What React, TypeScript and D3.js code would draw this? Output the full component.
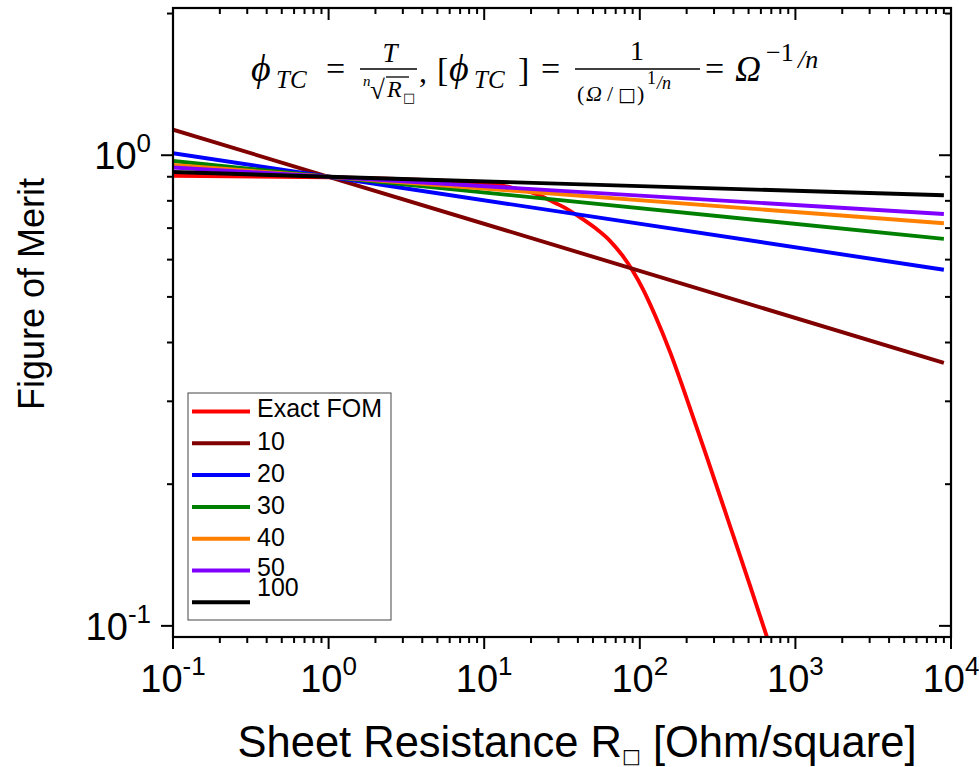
import React from "react";
import * as d3 from "d3";

const W = 979;
const H = 767;

// ---- data ----
const lineR = [0.1, 1, 9000];
const fomN10 = [1.133, 0.9, 0.362];
const fomN20 = [1.01, 0.9, 0.571];
const fomN30 = [0.972, 0.9, 0.664];
const fomN40 = [0.953, 0.9, 0.717];
const fomN50 = [0.942, 0.9, 0.75];
const fomN100 = [0.921, 0.9, 0.822];

const exactR = [0.1, 1, 3.1, 9.8, 14.7, 21.8, 26.5, 33.1, 41.3, 51.5, 64.3, 76.8, 90.4, 104.9, 125.3, 156.4, 201, 270, 380, 511, 656, 857];
const exactFom = [0.904, 0.898, 0.889, 0.872, 0.855, 0.826, 0.802, 0.773, 0.738, 0.701, 0.658, 0.614, 0.567, 0.519, 0.457, 0.382, 0.303, 0.228, 0.163, 0.1217, 0.0948, 0.0727];

const seriesLabels = ["Exact FOM", "10", "20", "30", "40", "50", "100"];
const seriesColors = ["#ff0000", "#800000", "#0000ff", "#008000", "#ff8000", "#8000ff", "#000000"];

const xTickExps = [-1, 0, 1, 2, 3, 4];
const yTickExps = [-1, 0];

const xDomain: [number, number] = [0.1, 10000];
const yDomain: [number, number] = [0.0947, 2.055];

export default function App() {
  const left = 173, right = 951, top = 8, bottom = 637;
  const x = d3.scaleLog().domain(xDomain).range([left, right]);
  const y = d3.scaleLog().domain(yDomain).range([bottom, top]);

  const series = [
    exactR.map((r, i) => [r, exactFom[i]] as [number, number]),
    ...[fomN10, fomN20, fomN30, fomN40, fomN50, fomN100].map((arr) =>
      lineR.map((r, i) => [r, arr[i]] as [number, number])
    ),
  ];

  const line = d3
    .line<[number, number]>()
    .x((d) => x(d[0]))
    .y((d) => y(d[1]));
  const curved = d3
    .line<[number, number]>()
    .x((d) => x(d[0]))
    .y((d) => y(d[1]))
    .curve(d3.curveMonotoneX);

  const xMinor: number[] = [];
  for (let e = -1; e < 4; e++) for (let k = 2; k <= 9; k++) xMinor.push(k * Math.pow(10, e));
  const yMinor: number[] = [];
  for (let e = -2; e <= 0; e++)
    for (let k = 2; k <= 9; k++) {
      const v = k * Math.pow(10, e);
      if (v >= yDomain[0] && v <= yDomain[1]) yMinor.push(v);
    }

  const sans = "'Liberation Sans', Arial, 'DejaVu Sans', sans-serif";
  const serif = "'Liberation Serif', 'DejaVu Serif', serif";
  const box = "'DejaVu Sans', sans-serif";
  const tickFont = 38;
  const supFont = 26;

  const legendX = 188, legendY = 393, legendW = 203, legendH = 227;
  const legendRowY = (i: number) => 411.5 + i * 31.8;
  const legendTextDy = [5, 7, 7, 7, 7, 5, -6];

  return (
    <svg width={W} height={H} style={{ display: "block", position: "absolute", left: 0, top: 0, background: "#fff" }}>
      <defs>
        <clipPath id="plotClip">
          <rect x={left} y={top} width={right - left} height={bottom - top} />
        </clipPath>
      </defs>
      <rect x={0} y={0} width={W} height={H} fill="#fff" />

      {/* data lines */}
      <g clipPath="url(#plotClip)" fill="none" strokeWidth={3.9}>
        {series.map((s, i) => (
          <path key={i} d={(i === 0 ? curved(s) : line(s)) || ""} stroke={seriesColors[i]} />
        ))}
      </g>

      {/* frame */}
      <rect x={left} y={top} width={right - left} height={bottom - top} fill="none" stroke="#000" strokeWidth={2.2} />

      {/* ticks */}
      <g stroke="#000" strokeWidth={2}>
        {xTickExps.map((e) => {
          const px = x(Math.pow(10, e));
          return (
            <g key={"xm" + e}>
              <line x1={px} x2={px} y1={bottom} y2={bottom + 12} />
              <line x1={px} x2={px} y1={top} y2={top + 12} />
            </g>
          );
        })}
        {xMinor.map((v, i) => {
          const px = x(v);
          return (
            <g key={"xn" + i}>
              <line x1={px} x2={px} y1={bottom} y2={bottom + 6} />
              <line x1={px} x2={px} y1={top} y2={top + 6} />
            </g>
          );
        })}
        {yTickExps.map((e) => {
          const py = y(Math.pow(10, e));
          return (
            <g key={"ym" + e}>
              <line x1={left} x2={left - 12} y1={py} y2={py} />
              <line x1={right} x2={right - 12} y1={py} y2={py} />
            </g>
          );
        })}
        {yMinor.map((v, i) => {
          const py = y(v);
          return (
            <g key={"yn" + i}>
              <line x1={left} x2={left - 6} y1={py} y2={py} />
              <line x1={right} x2={right - 6} y1={py} y2={py} />
            </g>
          );
        })}
      </g>

      {/* tick labels */}
      <g fontFamily={sans} fill="#000">
        {xTickExps.map((e) => (
          <text key={"xl" + e} x={x(Math.pow(10, e))} y={692} fontSize={tickFont} textAnchor="middle">
            10
            <tspan fontSize={supFont} dy={-17}>{String(e)}</tspan>
          </text>
        ))}
        {yTickExps.map((e) => (
          <text key={"yl" + e} x={151} y={y(Math.pow(10, e)) + 14} fontSize={tickFont} textAnchor="end">
            10
            <tspan fontSize={supFont} dy={-17}>{String(e)}</tspan>
          </text>
        ))}
      </g>

      {/* axis titles */}
      <text x={577} y={757} fontFamily={sans} fontSize={43.5} textAnchor="middle">
        Sheet Resistance R
        <tspan fontSize={20} dy={6} fontFamily={box}>□</tspan>
        <tspan dy={-6}> [Ohm/square]</tspan>
      </text>
      <text transform={`translate(44, 294) rotate(-90)`} fontFamily={sans} fontSize={36} textAnchor="middle">
        Figure of Merit
      </text>

      {/* legend */}
      <rect x={legendX} y={legendY} width={legendW} height={legendH} fill="#fff" stroke="#444" strokeWidth={1} />
      {seriesLabels.map((lab, i) => (
        <g key={"lg" + i}>
          <line x1={192} x2={250} y1={legendRowY(i)} y2={legendRowY(i)} stroke={seriesColors[i]} strokeWidth={4} />
          <text x={257} y={legendRowY(i) + legendTextDy[i]} fontFamily={sans} fontSize={25}>
            {lab}
          </text>
        </g>
      ))}

      {/* formula */}
      <g fontFamily={serif} fill="#000">
        <text x={251} y={81} fontSize={38} fontStyle="italic">ϕ</text>
        <text x={276} y={88} fontSize={25} fontStyle="italic">TC</text>
        <text x={326} y={80} fontSize={34}>=</text>
        <line x1={360} x2={417} y1={69} y2={69} stroke="#000" strokeWidth={1.5} />
        <text x={390} y={62} fontSize={27} fontStyle="italic" textAnchor="middle">T</text>
        <text x={363} y={86} fontSize={15} fontStyle="italic">n</text>
        <text x={370} y={99} fontSize={27}>√</text>
        <line x1={386} x2={409} y1={77} y2={77} stroke="#000" strokeWidth={1.3} />
        <text x={387} y={97} fontSize={24} fontStyle="italic">R</text>
        <text x={403} y={102} fontSize={13} fontFamily={box}>□</text>
        <text x={419} y={82} fontSize={32}>,</text>
        <text x={437} y={81} fontSize={34}>[</text>
        <text x={449} y={81} fontSize={38} fontStyle="italic">ϕ</text>
        <text x={474} y={88} fontSize={25} fontStyle="italic">TC</text>
        <text x={518} y={81} fontSize={34}>]</text>
        <text x={541} y={80} fontSize={34}>=</text>
        <line x1={575} x2={700} y1={69} y2={69} stroke="#000" strokeWidth={1.5} />
        <text x={637} y={60} fontSize={28} textAnchor="middle">1</text>
        <text x={577} y={101} fontSize={22}>(</text>
        <text x={586} y={101} fontSize={22} fontStyle="italic">Ω</text>
        <text x={607} y={101} fontSize={22}>/</text>
        <text x={618} y={101} fontSize={19} fontFamily={box}>□</text>
        <text x={637} y={101} fontSize={22}>)</text>
        <text x={647} y={84} fontSize={18}>1</text>
        <text x={657} y={89} fontSize={18} fontStyle="italic">/n</text>
        <text x={705} y={80} fontSize={34}>=</text>
        <text x={735} y={81} fontSize={36} fontStyle="italic">Ω</text>
        <text x={766} y={61} fontSize={26}>−1</text>
        <text x={798} y={68} fontSize={26} fontStyle="italic">/n</text>
      </g>
    </svg>
  );
}
